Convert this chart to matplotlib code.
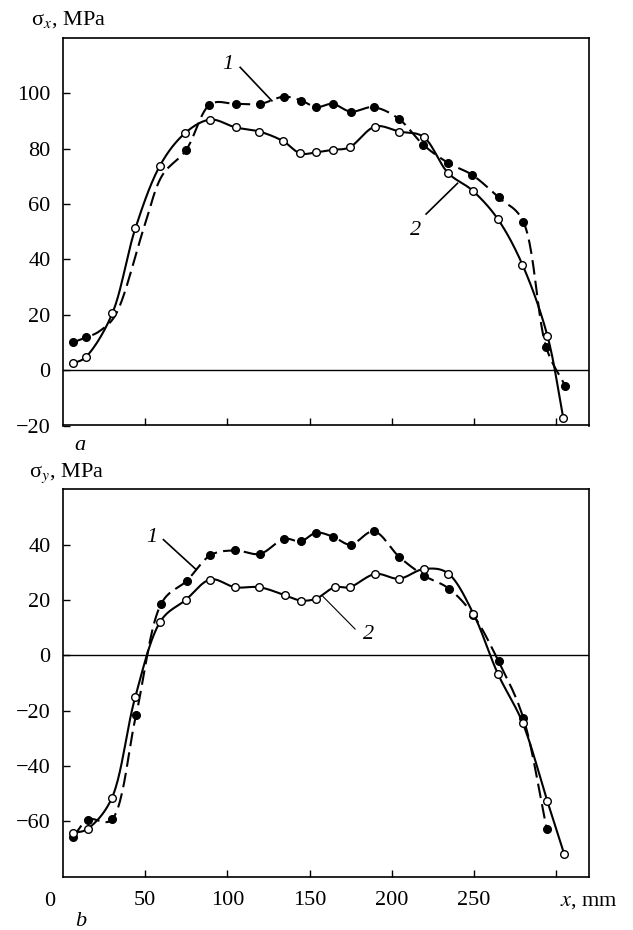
import numpy as np
import matplotlib
matplotlib.use("Agg")
import matplotlib.pyplot as plt

plt.rcParams['font.family'] = ['Liberation Serif', 'DejaVu Serif']
plt.rcParams['mathtext.fontset'] = 'stix'

# ---------------- data ----------------
# panel a: sigma_x
a1_x = [6, 14, 22, 32, 49, 60, 75, 89, 105, 120, 134.5, 145, 154, 164, 175, 189, 204.5, 219, 234.5, 249, 265, 280, 294, 305.5]
a1_y = [10, 11.8, 14, 20, 51, 70, 79.6, 95.8, 96.2, 96.2, 98.8, 97.4, 95, 96.2, 93.4, 95, 90.7, 81.5, 74.8, 70.5, 62.4, 53.7, 8.2, -5.7]
a1_marked = [0, 1, 6, 7, 8, 9, 10, 11, 12, 13, 14, 15, 16, 17, 18, 19, 20, 21, 22, 23]

a2_x = [6, 14, 30, 44, 59, 74, 89.5, 105, 119.5, 134, 144.3, 154, 164, 174.3, 189.7, 204.5, 219.7, 234, 249.3, 264.5, 279.5, 294.7, 304.4]
a2_y = [2.4, 4.8, 20.5, 51.2, 73.9, 85.5, 90.5, 87.7, 86.2, 82.7, 78.3, 78.7, 79.6, 80.5, 88, 86.2, 84.1, 71.4, 64.8, 54.6, 38.1, 12.4, -17.4]

# panel b: sigma_y
b1_x = [6, 15, 30, 44.5, 59.7, 75.4, 89.5, 104.7, 120, 134.5, 144.7, 154, 164.5, 175, 189.3, 204.5, 219.7, 235, 249.7, 265, 280, 294.3]
b1_y = [-65.8, -59.4, -59.2, -21.4, 18.6, 27, 36.1, 37.9, 36.7, 42.1, 41.2, 44.3, 42.8, 40, 44.8, 35.6, 28.8, 24, 14.5, -2.2, -22.6, -62.8]

b2_x = [6, 15, 29.7, 43.9, 59.1, 74.8, 89.5, 104.7, 119.5, 135.2, 144.7, 154, 165.2, 174.3, 189.9, 204.5, 219.7, 234.5, 249.7, 264.5, 279.7, 294.7, 304.9]
b2_y = [-64.2, -62.7, -51.6, -15.2, 12.1, 20.1, 27.4, 24.6, 24.6, 21.7, 19.8, 20.5, 24.6, 24.6, 29.4, 27.7, 31.2, 29.5, 15, -6.6, -24.5, -52.8, -71.8]

xticks = [50, 100, 150, 200, 250, 300]
xtick_labels = ['50', '100', '150', '200', '250', '']
a_yticks = [-20, 0, 20, 40, 60, 80, 100]
b_yticks = [-60, -40, -20, 0, 20, 40]


def smooth(xs, ys, n=24):
    """Centripetal Catmull-Rom curve through the given points (for drawing)."""
    p = np.column_stack([xs, ys]).astype(float)
    p = np.vstack([2 * p[0] - p[1], p, 2 * p[-1] - p[-2]])
    out = []
    for i in range(1, len(p) - 2):
        p0, p1, p2, p3 = p[i - 1], p[i], p[i + 1], p[i + 2]
        def tj(ti, a, b):
            return ti + max(np.hypot(*(b - a)), 1e-6) ** 0.5
        t0 = 0.0
        t1 = tj(t0, p0, p1)
        t2 = tj(t1, p1, p2)
        t3 = tj(t2, p2, p3)
        t = np.linspace(t1, t2, n)[:, None]
        A1 = (t1 - t) / (t1 - t0) * p0 + (t - t0) / (t1 - t0) * p1
        A2 = (t2 - t) / (t2 - t1) * p1 + (t - t1) / (t2 - t1) * p2
        A3 = (t3 - t) / (t3 - t2) * p2 + (t - t2) / (t3 - t2) * p3
        B1 = (t2 - t) / (t2 - t0) * A1 + (t - t0) / (t2 - t0) * A2
        B2 = (t3 - t) / (t3 - t1) * A2 + (t - t1) / (t3 - t1) * A3
        C = (t2 - t) / (t2 - t1) * B1 + (t - t1) / (t2 - t1) * B2
        out.append(C if i == 1 else C[1:])
    c = np.vstack(out)
    return c[:, 0], c[:, 1]


W, H = 633, 930
fig = plt.figure(figsize=(W / 100, H / 100), dpi=100)

ax_a = fig.add_axes([63 / W, 1 - 425.5 / H, 526 / W, 387.5 / H])
ax_b = fig.add_axes([63 / W, 1 - 876.7 / H, 526 / W, 387.4 / H])

FS = 16
LW = 1.5
MS = 5.5
dash = (0, (7, 3))


def draw(ax, x1, y1, m1, x2, y2):
    sx, sy = smooth(x1, y1)
    ax.plot(sx, sy, color='black', lw=LW, linestyle=dash, zorder=3)
    ax.plot(np.array(x1)[m1], np.array(y1)[m1], 'o', color='black', ms=MS, zorder=4)
    sx2, sy2 = smooth(x2, y2)
    ax.plot(sx2, sy2, color='black', lw=LW, zorder=5)
    ax.plot(x2, y2, 'o', mfc='white', mec='black', mew=1.0, ms=MS, zorder=6)
    ax.axhline(0, color='black', lw=1.0, zorder=2)
    ax.set_xlim(0, 320)
    ax.set_xticks(xticks)
    ax.tick_params(direction='in', length=5, width=1.0, labelsize=FS)
    ax.tick_params(axis='y', pad=9)
    ax.tick_params(axis='x', pad=10)
    for s in ax.spines.values():
        s.set_linewidth(1.2)


draw(ax_a, a1_x, a1_y, a1_marked, a2_x, a2_y)
ax_a.set_ylim(-20, 120)
ax_a.set_yticks(a_yticks)
ax_a.set_yticklabels(['\u221220', '0', '20', '40', '60', '80', '100'])
ax_a.set_xticklabels([])

draw(ax_b, b1_x, b1_y, list(range(len(b1_x))), b2_x, b2_y)
ax_b.set_ylim(-80, 60)
ax_b.set_yticks(b_yticks)
ax_b.set_yticklabels(['\u221260', '\u221240', '\u221220', '0', '20', '40'])
ax_b.set_xticklabels(xtick_labels)

# axis titles
fig.text(31 / W, 1 - 20 / H, 'σ$_x$, MPa', fontsize=FS, ha='left', va='center')
fig.text(29 / W, 1 - 473 / H, 'σ$_y$, MPa', fontsize=FS, ha='left', va='center')
ax_b.text(-13.5 / 526, -25 / 387.4, '0', transform=ax_b.transAxes, fontsize=FS, ha='center', va='center')
ax_b.text(1.0, -25 / 387.4, '$x$, mm', transform=ax_b.transAxes, fontsize=FS, ha='center', va='center')
ax_a.text(17 / 526, -19.5 / 387.5, 'a', transform=ax_a.transAxes, fontsize=FS, style='italic', ha='center', va='center')
ax_b.text(18 / 526, -45 / 387.4, 'b', transform=ax_b.transAxes, fontsize=FS, style='italic', ha='center', va='center')

# curve labels with leader lines
ax_a.plot([107.8, 127.1], [109.4, 97.3], color='black', lw=1.2, zorder=3)
ax_a.text(100.3, 110.6, '1', fontsize=FS, style='italic', ha='center', va='center')
ax_a.plot([220.9, 240], [56.4, 67.5], color='black', lw=1.2, zorder=3)
ax_a.text(214.2, 50.4, '2', fontsize=FS, style='italic', ha='center', va='center')

ax_b.plot([61.1, 81], [41.8, 31.0], color='black', lw=1.2, zorder=3)
ax_b.text(54.1, 42.5, '1', fontsize=FS, style='italic', ha='center', va='center')
ax_b.plot([177.7, 158.1], [9.5, 21.3], color='black', lw=0.8, zorder=3)
ax_b.text(185.8, 7.5, '2', fontsize=FS, style='italic', ha='center', va='center')

fig.savefig('out.png', dpi=100)
